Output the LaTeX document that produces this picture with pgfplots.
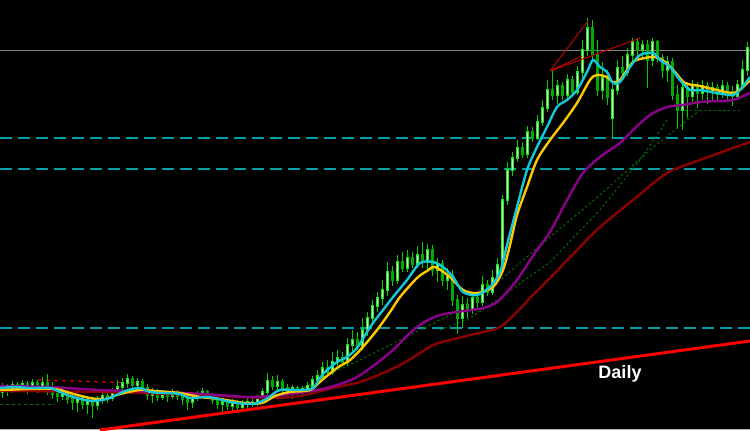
\documentclass[border=0pt]{standalone}
\usepackage{pgfplots}
\pgfplotsset{compat=1.18}
\usepackage{pgfplotstable}
\usepackage{fontspec}
\setmainfont{Liberation Sans}
\definecolor{wick}{RGB}{0,210,0}
\definecolor{bullout}{RGB}{40,230,40}
\definecolor{bullin}{RGB}{200,255,190}
\definecolor{bear}{RGB}{0,170,0}
\definecolor{macyan}{RGB}{20,200,215}
\definecolor{mayel}{RGB}{255,200,0}
\definecolor{mapur}{RGB}{140,0,140}
\definecolor{madred}{RGB}{140,0,0}
\definecolor{lvl}{RGB}{0,160,170}
\definecolor{dgreen}{RGB}{0,110,0}
\pgfplotstableread{
x o c h l
2.5 392 387 383 398
7.5 387 390 384 396
12.5 390 385 381 393
17.5 385 388 382 392
22.5 388 384 380 390
27.5 384 387 381 394
32.5 387 383 379 391
37.5 383 386 380 393
42.5 386 383 377 390
47.5 383 389 374 395
52.5 389 394 382 399
57.5 394 396 388 402
62.5 396 392 389 400
67.5 392 399 390 404
72.5 399 402 394 410
77.5 402 398 395 412
82.5 398 404 396 409
87.5 404 400 396 414
92.5 400 405 398 418
97.5 405 400 396 410
102.5 400 396 390 404
107.5 396 398 392 403
112.5 398 392 388 401
117.5 392 387 380 395
122.5 387 383 378 390
127.5 383 379 374 388
132.5 379 385 376 389
137.5 385 382 378 390
142.5 382 388 379 392
147.5 388 395 384 400
152.5 395 392 388 403
157.5 392 397 389 401
162.5 397 393 390 400
167.5 393 396 391 402
172.5 396 392 389 399
177.5 392 396 390 400
182.5 396 399 392 405
187.5 399 402 395 410
192.5 402 398 394 408
197.5 398 395 391 401
202.5 395 392 388 398
207.5 392 396 390 399
212.5 396 400 393 404
217.5 400 404 396 409
222.5 404 402 398 412
227.5 402 406 399 410
232.5 406 403 399 411
237.5 403 407 400 413
242.5 407 404 400 410
247.5 404 402 398 409
252.5 402 403 397 407
257.5 403 398 395 406
262.5 398 392 388 401
267.5 392 381 373 395
272.5 381 386 376 390
277.5 386 382 375 392
282.5 382 388 379 393
287.5 388 391 384 396
292.5 391 388 385 399
297.5 388 392 386 396
302.5 392 389 386 395
307.5 389 386 382 392
312.5 386 380 376 390
317.5 380 376 370 384
322.5 376 368 362 380
327.5 368 372 360 376
332.5 372 362 352 375
337.5 362 358 350 366
342.5 358 362 352 366
347.5 362 345 338 366
352.5 345 340 330 352
357.5 340 346 332 350
362.5 346 330 318 350
367.5 330 318 312 336
372.5 318 306 300 322
377.5 306 298 292 312
382.5 298 290 280 305
387.5 290 272 262 296
392.5 272 280 266 286
397.5 280 262 255 284
402.5 262 268 252 272
407.5 268 258 250 272
412.5 258 264 252 268
417.5 264 255 246 268
422.5 255 262 242 268
427.5 262 250 244 272
432.5 250 270 245 276
437.5 270 264 258 282
442.5 264 280 260 286
447.5 280 275 268 290
452.5 275 300 270 306
457.5 300 318 295 334
462.5 318 305 296 328
467.5 305 310 298 318
472.5 310 298 292 314
477.5 298 302 292 310
482.5 302 285 276 306
487.5 285 292 280 296
492.5 292 278 270 295
497.5 278 265 258 283
502.5 265 200 195 270
507.5 200 170 162 205
512.5 170 158 152 176
517.5 158 148 140 162
522.5 148 154 142 158
527.5 154 132 126 158
532.5 132 138 127 142
537.5 138 122 115 140
542.5 122 108 100 126
547.5 108 90 80 112
552.5 90 95 70 100
557.5 95 86 80 104
562.5 86 95 82 100
567.5 95 80 74 98
572.5 80 92 76 96
577.5 92 72 66 95
582.5 72 50 40 78
587.5 50 28 18 56
592.5 28 55 20 60
597.5 55 90 40 96
602.5 90 78 62 100
607.5 78 97 70 105
612.5 118 90 82 137
617.5 90 68 60 95
622.5 68 72 56 78
627.5 72 55 48 76
632.5 55 42 38 62
637.5 42 50 38 56
642.5 50 45 40 60
647.5 45 60 40 88
652.5 60 42 38 66
657.5 42 58 40 62
662.5 58 70 54 78
667.5 70 62 56 82
672.5 62 95 58 100
677.5 95 110 85 128
682.5 110 88 80 130
687.5 88 96 82 118
692.5 96 85 80 104
697.5 85 93 82 108
702.5 93 86 80 100
707.5 86 92 82 104
712.5 92 88 82 100
717.5 88 94 84 102
722.5 94 86 80 98
727.5 86 92 82 102
732.5 92 96 86 106
737.5 96 85 80 100
742.5 85 70 60 90
747.5 70 48 42 76
}\candles
\begin{document}
\begin{tikzpicture}
\begin{axis}[width=375pt, height=215pt, scale only axis,
  xmin=0, xmax=750, ymin=0, ymax=430, y dir=reverse,
  axis lines=none, ticks=none, clip=true,
  axis background/.style={fill=black}]
% horizontal levels
\addplot[lvl, line width=0.75pt, dash pattern=on 6pt off 3pt] coordinates {(0,138) (750,138)};
\addplot[lvl, line width=0.75pt, dash pattern=on 6pt off 3pt] coordinates {(0,169) (750,169)};
\addplot[lvl, line width=0.75pt, dash pattern=on 6pt off 3pt] coordinates {(0,328) (750,328)};
\addplot[gray, line width=0.5pt] coordinates {(0,50) (750,50)};
\addplot[gray!60, line width=0.5pt] coordinates {(0,429.5) (750,429.5)};
% dotted helper lines
\addplot[dgreen, line width=0.5pt, dash pattern=on 1.2pt off 1.2pt] coordinates {(300,390) (323,377) (360,360) (400,340) (450,315) (500,280) (550,237) (600,195) (650,150) (700,110)};
\addplot[dgreen, line width=0.5pt, dash pattern=on 1.2pt off 1.2pt] coordinates {(440,330) (470,318) (500,298) (550,262) (600,210) (640,160) (667,120)};
\addplot[dgreen, line width=0.5pt, dash pattern=on 1.2pt off 1.2pt] coordinates {(680,110) (740,110)};
\addplot[dgreen, line width=0.5pt, dash pattern=on 1.5pt off 1.5pt] coordinates {(0,404) (55,404)};
\addplot[red!80!black, line width=0.6pt, dash pattern=on 2pt off 2pt] coordinates {(38,380) (140,383)};
% wicks
\addplot[draw=none, mark=none, error bars/.cd, y dir=both, y explicit, error mark=none,
  error bar style={color=wick, line width=0.6pt, solid}]
  table[x=x, y expr={(\thisrow{h}+\thisrow{l})/2}, y error expr={(\thisrow{l}-\thisrow{h})/2}] {\candles};
% bear bodies
\addplot[draw=none, mark=none, error bars/.cd, y dir=both, y explicit, error mark=none,
  error bar style={color=bear, line width=1.9pt, solid}]
  table[x expr={\thisrow{c}>\thisrow{o} ? \thisrow{x} : nan}, y expr={(\thisrow{o}+\thisrow{c})/2}, y error expr={abs(\thisrow{c}-\thisrow{o})/2+0.7}] {\candles};
% bull bodies
\addplot[draw=none, mark=none, error bars/.cd, y dir=both, y explicit, error mark=none,
  error bar style={color=bullout, line width=1.9pt, solid}]
  table[x expr={\thisrow{c}<\thisrow{o} ? \thisrow{x} : nan}, y expr={(\thisrow{o}+\thisrow{c})/2}, y error expr={abs(\thisrow{c}-\thisrow{o})/2+0.7}] {\candles};
\addplot[draw=none, mark=none, error bars/.cd, y dir=both, y explicit, error mark=none,
  error bar style={color=bullin, line width=0.8pt, solid}]
  table[x expr={\thisrow{c}<\thisrow{o} ? \thisrow{x} : nan}, y expr={(\thisrow{o}+\thisrow{c})/2}, y error expr={max(abs(\thisrow{c}-\thisrow{o})/2-1,0)}] {\candles};
% moving averages
\addplot[madred, line width=1.2pt, smooth, tension=0.5] coordinates {(0,391) (100,392) (200,395) (267,398) (300,396) (333,388) (360,382) (383,373) (400,365) (417,355) (433,345) (450,340) (483,332) (500,327) (517,312) (533,295) (550,278) (577,250) (600,227) (633,200) (667,173) (700,160) (733,148) (750,142)};
\addplot[mapur, line width=1.2pt, smooth, tension=0.5] coordinates {(0,386) (50,387) (100,390) (167,392) (233,396) (250,397) (283,395) (317,390) (337,385) (357,377) (377,363) (393,350) (410,333) (423,323) (437,316) (450,313) (483,308) (497,302) (507,292) (517,280) (527,265) (537,250) (550,232) (567,200) (583,173) (600,157) (620,143) (633,130) (650,115) (667,107) (683,105) (700,102) (717,101) (733,100) (750,93)};
\addplot[mayel, line width=1.2pt, smooth, tension=0.5] coordinates {(0,390) (30,389) (55,389) (70,393) (90,398) (105,399) (120,394) (140,390) (155,391) (180,393) (200,397) (220,399) (245,403) (262,403) (275,396) (290,392) (310,390) (322,380) (337,368) (350,360) (362,348) (377,330) (390,312) (400,297) (417,278) (427,271) (435,267) (450,277) (463,290) (477,293) (493,287) (503,270) (510,245) (517,215) (527,187) (537,160) (550,140) (563,123) (577,103) (590,80) (597,75) (607,77) (613,82) (620,80) (633,62) (645,58) (655,57) (665,62) (675,72) (685,83) (700,86) (717,90) (733,93) (742,88) (750,80)};
\addplot[macyan, line width=1.2pt, smooth, tension=0.5] coordinates {(0,388) (15,387) (30,388) (50,388) (60,392) (70,396) (85,400) (95,401) (110,398) (125,391) (140,388) (150,392) (165,393) (180,394) (190,398) (205,397) (215,398) (230,402) (250,404) (260,402) (268,398) (280,390) (300,390) (313,388) (323,374) (337,362) (347,357) (357,348) (367,332) (373,323) (383,310) (393,297) (407,280) (420,263) (433,262) (443,267) (453,277) (463,292) (477,295) (490,287) (500,272) (507,245) (517,207) (527,170) (537,147) (547,127) (557,107) (567,100) (577,90) (587,72) (593,60) (600,67) (607,72) (613,83) (620,82) (630,67) (640,55) (653,53) (660,60) (670,67) (680,80) (690,90) (700,90) (717,93) (733,95) (740,90) (750,77)};
% fan lines
\addplot[red!75!black, line width=0.5pt] coordinates {(550,71) (588,21)};
\addplot[red!75!black, line width=0.5pt] coordinates {(550,71) (582,56)};
\addplot[red!75!black, line width=0.5pt] coordinates {(550,71) (640,38)};
% trend line
\addplot[red, line width=1.5pt] coordinates {(100,430) (750,341)};
\node[text=white, font=\bfseries\fontsize{9}{9}\selectfont] at (axis cs:620,373.5) {Daily};
\end{axis}
\end{tikzpicture}
\end{document}
